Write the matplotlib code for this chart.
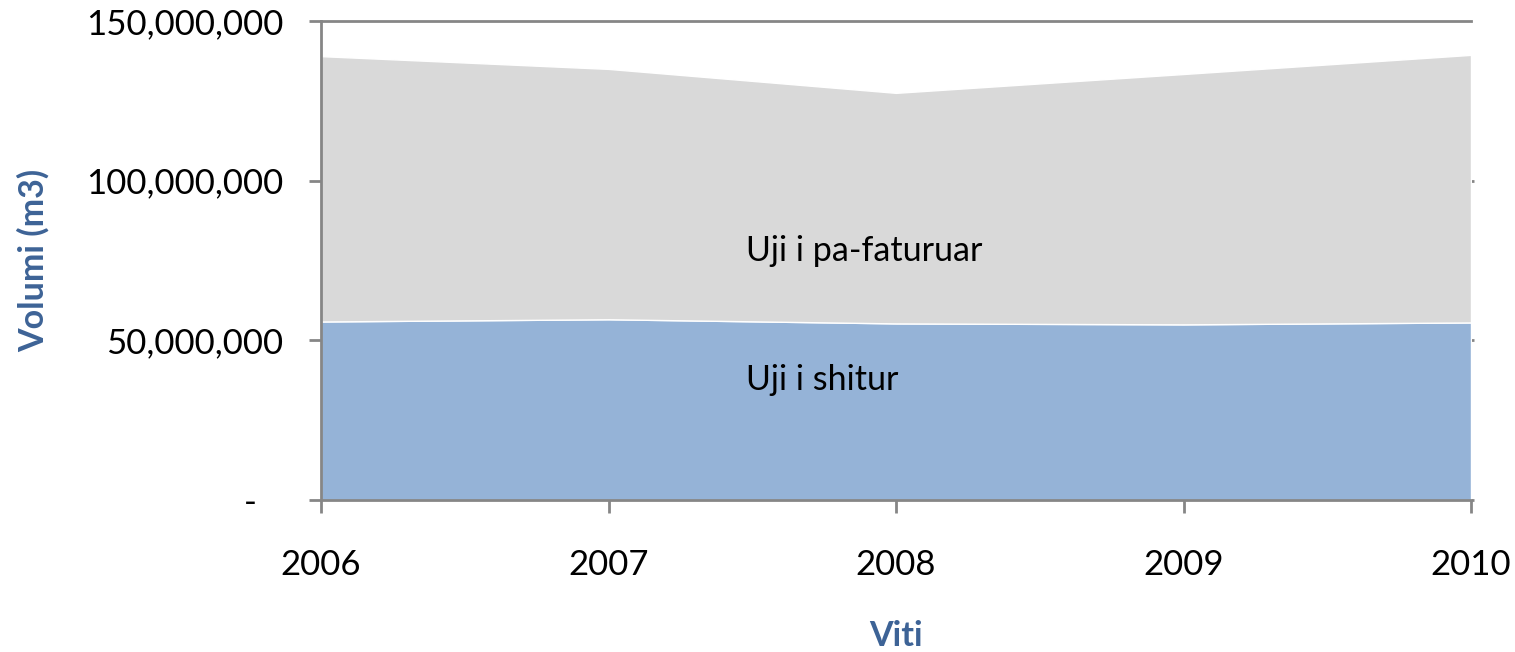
import numpy as np
import matplotlib
matplotlib.use("Agg")
import matplotlib.pyplot as plt
from matplotlib.ticker import FuncFormatter

# data (m3)
years = [2006, 2007, 2008, 2009, 2010]
uji_shitur = [55.9e6, 56.6e6, 55.3e6, 55.0e6, 55.6e6]
uji_pa_faturuar = [83.1e6, 78.4e6, 72.2e6, 78.4e6, 83.8e6]
yticks = [0, 50e6, 100e6, 150e6]

plt.rcParams['font.family'] = ['Lato', 'DejaVu Sans']

blue = '#95b3d7'
grey = '#d9d9d9'
axis_grey = '#868686'
title_col = '#3d6396'

fig = plt.figure(figsize=(15.15, 6.52), dpi=100)
ax = fig.add_axes([321 / 1515, 1 - 500 / 652, (1471 - 321) / 1515, (500 - 21) / 652])

ax.stackplot(years, uji_shitur, uji_pa_faturuar, colors=[blue, grey],
             edgecolor='white', linewidth=1.0)

ax.set_xlim(years[0], years[-1])
ax.set_ylim(0, 150e6)
ax.set_xticks(years)
ax.set_yticks(yticks)
ax.yaxis.set_major_formatter(FuncFormatter(lambda v, p: '-   ' if v == 0 else f'{v:,.0f}'))

for s in ['left', 'bottom', 'top']:
    ax.spines[s].set_color(axis_grey)
    ax.spines[s].set_linewidth(2)
ax.spines['right'].set_visible(False)
ax.tick_params(axis='both', colors=axis_grey, width=2, length=9, labelsize=25,
               labelcolor='black')
ax.tick_params(axis='x', pad=26)
ax.tick_params(axis='y', pad=18)

# small marks on the right edge
sec = ax.secondary_yaxis('right')
sec.set_yticks(yticks[:-1])
sec.spines['right'].set_visible(False)
sec.tick_params(length=2, width=2, colors=axis_grey, labelright=False)

ax.set_ylabel('Volumi (m3)', fontsize=24.5, fontweight='bold', color=title_col, labelpad=26)
ax.set_xlabel('Viti', fontsize=24.5, fontweight='bold', color=title_col, labelpad=28)

ax.text(2007.478, 78e6, 'Uji i pa-faturuar', fontsize=24.5, ha='left', va='center')
ax.text(2007.478, 37.5e6, 'Uji i shitur', fontsize=24.5, ha='left', va='center')

fig.savefig('out.png', dpi=100)
